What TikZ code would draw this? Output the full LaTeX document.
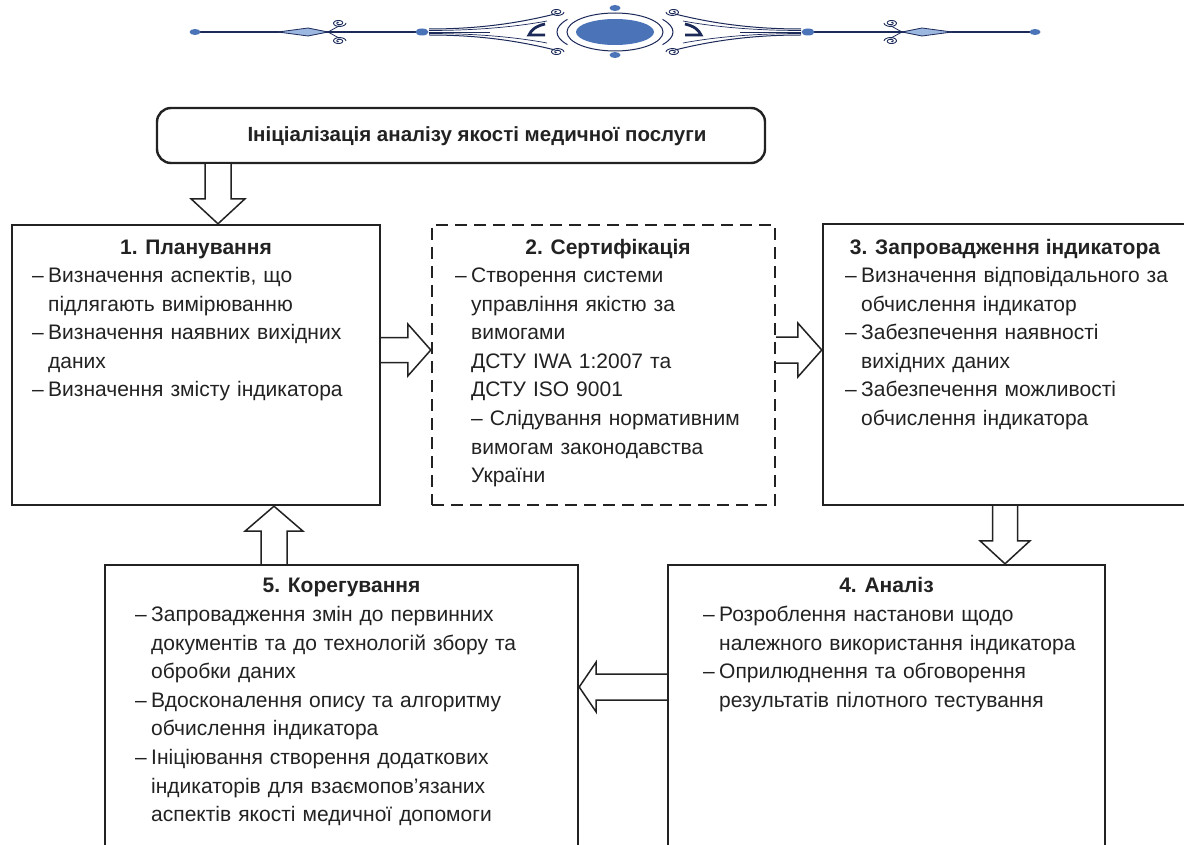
\documentclass[tikz,border=0pt]{standalone}
\usepackage{fontspec}
\setmainfont{Liberation Sans}
\usetikzlibrary{calc}

\definecolor{navy}{HTML}{1C2A5A}
\definecolor{orb}{HTML}{4A73B8}
\definecolor{pale}{HTML}{9DB8E0}
\definecolor{ink}{HTML}{222222}

\newlength{\dw}
\setlength{\dw}{16pt}
\newcommand\itm[1]{\makebox[\dw][l]{–}#1}
\newcommand\cnt[1]{\makebox[\dw][l]{}#1}

% hollow block arrow: start, tip, shaft half width, head half width, head length
\newcommand\blockarrow[5]{%
  \path ($(#2)!#5pt!(#1)$) coordinate (hb);
  \draw[blk] ($(#1)!#3pt!90:(#2)$) -- ($(hb)!#3pt!90:(#2)$) -- ($(hb)!#4pt!90:(#2)$)
    -- (#2) -- ($(hb)!#4pt!-90:(#2)$) -- ($(hb)!#3pt!-90:(#2)$) -- ($(#1)!#3pt!-90:(#2)$);
}

% small spiral curl
\newcommand\curl[2]{%
  \draw[navy, line width=0.9pt] plot[variable=\t, domain=0:630, samples=60, smooth]
    ({#1+(7-\t/110)*cos(\t)}, {#2+0.55*(7-\t/110)*sin(\t)});
}

% left half of the header ornament, centred at the origin
\newcommand\ornhalf{%
  \draw[navy, line width=1.1pt] (-420,0) -- (-193,0);
  \filldraw[fill=pale, draw=navy, line width=0.8pt] (-337,0) -- (-307,-4) -- (-287,0) -- (-307,4) -- cycle;
  \draw[navy, line width=0.8pt] (-287,0) .. controls (-283,-2) and (-280,-4) .. (-276,-6);
  \draw[navy, line width=0.8pt] (-287,0) .. controls (-283,2) and (-280,4) .. (-276,6);
  \curl{-276}{-9}
  \begin{scope}[yscale=-1]\curl{-276}{-9}\end{scope}
  \fill[orb] (-420,0) ellipse (5.5 and 3);
  \fill[orb] (-193,0) ellipse (6.5 and 3.5);
  % fan towards the centre
  \draw[navy, line width=1pt] (-186,-3) .. controls (-140,-3) and (-100,-8) .. (-60,-18);
  \draw[navy, line width=0.7pt] (-186,-1.5) .. controls (-140,-1.5) and (-100,-5) .. (-68,-11);
  \draw[navy, line width=1pt] (-186,3) .. controls (-140,3) and (-100,8) .. (-60,18);
  \draw[navy, line width=0.7pt] (-186,1.5) .. controls (-140,1.5) and (-100,5) .. (-68,11);
  \draw[navy, line width=0.6pt] (-186,0) -- (-125,0);
  \draw[navy, line width=2.8pt] (-70,-8) .. controls (-79,-6) and (-84,-2) .. (-86,3) -- (-70,3);
  \curl{-58}{-20}
  \begin{scope}[yscale=-1]\curl{-58}{-20}\end{scope}
  \draw[navy, line width=1pt] (0,0) ++(145:58 and 22) arc[start angle=145, end angle=215, x radius=58, y radius=22];
}

\tikzset{
  box/.style={draw=ink, line width=2.4pt, inner sep=0pt, fill=white},
  dbox/.style={box, dash pattern=on 12pt off 7pt},
  blk/.style={draw=ink, line width=1.5pt, fill=white, line join=miter},
  ttl/.style={font=\bfseries\fontsize{21}{25}\selectfont, inner sep=0pt, anchor=base, text=ink},
  lst/.style={font=\fontsize{21}{28.6}\selectfont, align=left, text width=440pt,
    inner sep=0pt, anchor=base west, text=ink},
}

\begin{document}
\begin{tikzpicture}[x=1pt, y=-1pt]
\useasboundingbox (0,0) rectangle (1184,845);
\fill[white] (0,0) rectangle (1184,845);
\clip (0,0) rectangle (1184,845);

% header ornament
\begin{scope}[shift={(615,32)}]
  \ornhalf
  \begin{scope}[xscale=-1]\ornhalf\end{scope}
  \draw[navy, line width=1pt] (0,0) ellipse (48 and 19);
  \fill[orb] (0,0) ellipse (39 and 13);
  \fill[orb] (0,-24) ellipse (5.5 and 3);
  \fill[orb] (0,23) ellipse (5.5 and 3);
\end{scope}

% boxes
\node[box, rounded corners=14pt, minimum width=608pt, minimum height=55pt] (top) at (461,135.5) {};
\node[box, minimum width=368pt, minimum height=280pt] (b1) at (196,365) {};
\node[dbox, minimum width=343pt, minimum height=280pt] (b2) at (603.5,365) {};
\node[box, minimum width=364pt, minimum height=281pt] (b3) at (1005,364.5) {};
\node[box, minimum width=437pt, minimum height=305pt] (b4) at (886.5,717.5) {};
\node[box, minimum width=473pt, minimum height=305pt] (b5) at (341.5,717.5) {};

% texts
\node[ttl, font=\bfseries\fontsize{20.5}{25}\selectfont] (ttop) at (477,141.5) {Ініціалізація аналізу якості медичної послуги};

\node[ttl] (t1) at (196,254.5) {1. Планування};
\node[lst] (l1) at (32,282.5) {\itm{Визначення аспектів, що}\\
  \cnt{підлягають вимірюванню}\\
  \itm{Визначення наявних вихідних}\\
  \cnt{даних}\\
  \itm{Визначення змісту індикатора}};

\node[ttl] (t2) at (608,254.5) {2. Сертифікація};
\node[lst] (l2) at (455,282.5) {\itm{Створення системи}\\
  \cnt{управління якістю за}\\
  \cnt{вимогами}\\
  \cnt{ДСТУ IWA 1:2007 та}\\
  \cnt{ДСТУ ISO 9001}\\
  \cnt{– Слідування нормативним}\\
  \cnt{вимогам законодавства}\\
  \cnt{України}};

\node[ttl] (t3) at (1005,254.5) {3. Запровадження індикатора};
\node[lst] (l3) at (845,282.5) {\itm{Визначення відповідального за}\\
  \cnt{обчислення індикатор}\\
  \itm{Забезпечення наявності}\\
  \cnt{вихідних даних}\\
  \itm{Забезпечення можливості}\\
  \cnt{обчислення індикатора}};

\node[ttl] (t4) at (886.5,592.5) {4. Аналіз};
\node[lst] (l4) at (703,621.5) {\itm{Розроблення настанови щодо}\\
  \cnt{належного використання індикатора}\\
  \itm{Оприлюднення та обговорення}\\
  \cnt{результатів пілотного тестування}};

\node[ttl] (t5) at (341.5,592.5) {5. Корегування};
\node[lst] (l5) at (135,621.5) {\itm{Запровадження змін до первинних}\\
  \cnt{документів та до технологій збору та}\\
  \cnt{обробки даних}\\
  \itm{Вдосконалення опису та алгоритму}\\
  \cnt{обчислення індикатора}\\
  \itm{Ініціювання створення додаткових}\\
  \cnt{індикаторів для взаємопов’язаних}\\
  \cnt{аспектів якості медичної допомоги}};

% block arrows between the stages
\coordinate (a0s) at ($(top.south)+(-243,0)$);
\coordinate (a0e) at ($(b1.north)+(22,0)$);
\blockarrow{a0s}{a0e}{13}{27}{25}

\coordinate (a1s) at ($(b1.east)+(0,-15)$);
\coordinate (a1e) at ($(b2.west)+(0,-15)$);
\blockarrow{a1s}{a1e}{12.5}{26}{23}

\coordinate (a2s) at ($(b2.east)+(0,-15)$);
\coordinate (a2e) at ($(b3.west)+(0,-14.5)$);
\blockarrow{a2s}{a2e}{13}{27}{24}

\coordinate (a3s) at (b3.south);
\coordinate (a3e) at ($(b4.north)+(118.5,0)$);
\blockarrow{a3s}{a3e}{12.5}{25}{23}

\coordinate (a4s) at ($(b4.west)+(0,-30.5)$);
\coordinate (a4e) at ($(b5.east)+(0,-30.5)$);
\blockarrow{a4s}{a4e}{13}{25}{17}

\coordinate (a5s) at ($(b5.north)+(-67.5,0)$);
\coordinate (a5e) at ($(b1.south)+(78,0)$);
\blockarrow{a5s}{a5e}{13}{29}{25}
\end{tikzpicture}
\end{document}
